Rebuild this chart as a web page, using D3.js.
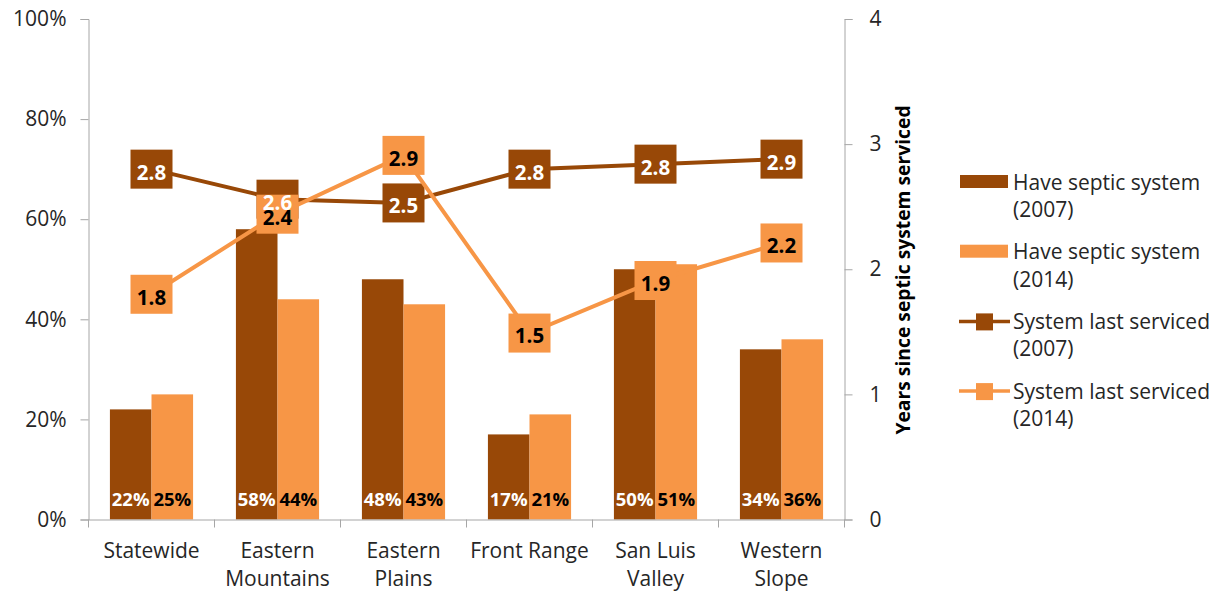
<!DOCTYPE html>
<html><head><meta charset="utf-8">
<script src="https://cdn.jsdelivr.net/npm/d3@7"></script>
<style>body{margin:0;background:#fff;} svg{display:block;font-family:"Open Sans",sans-serif;}</style>
</head><body>
<script>
const categories = [["Statewide"],["Eastern","Mountains"],["Eastern","Plains"],["Front Range"],["San Luis","Valley"],["Western","Slope"]];
const septic2007 = [22,58,48,17,50,34];
const septic2014 = [25,44,43,21,51,36];
const serviced2007 = [2.8,2.56,2.53,2.8,2.84,2.88];
const serviced2014 = [1.8,2.44,2.91,1.49,1.91,2.21];
const leftTicks = [0,20,40,60,80,100];
const rightTicks = [0,1,2,3,4];
const legendItems = ["Have septic system|(2007)","Have septic system|(2014)","System last serviced|(2007)","System last serviced|(2014)"];
const dark = "#984807", light = "#F79646", axisCol = "#A6A6A6", textCol = "#262626";

const W=1225,H=592;
const svg = d3.select("body").append("svg").attr("width",W).attr("height",H);
const x0=88.5, x1=844.5, yTop=19, yBot=519.5;
const x = d3.scaleBand().domain(d3.range(categories.length)).range([x0,x1]);
const yL = d3.scaleLinear().domain([0,100]).range([yBot,yTop]);
const yR = d3.scaleLinear().domain([0,4]).range([yBot,yTop]);

// bars
const barW = x.bandwidth()*0.66/2;
const off = (x.bandwidth()-2*barW)/2;
[septic2007,septic2014].forEach((s,si)=>{
  svg.append("g").selectAll("rect").data(s).join("rect")
    .attr("x",(d,i)=>x(i)+off+si*barW).attr("width",barW)
    .attr("y",d=>yL(d)).attr("height",d=>yBot-yL(d))
    .attr("fill",si?light:dark);
});
// bar labels
[septic2007,septic2014].forEach((s,si)=>{
  svg.append("g").selectAll("text").data(s).join("text")
    .attr("x",(d,i)=>x(i)+off+si*barW+barW/2).attr("y",499).attr("dy","0.36em")
    .attr("text-anchor","middle").attr("font-weight","bold").attr("font-size",18.5)
    .attr("fill",si?"#000":"#fff").text(d=>d+"%");
});

// axes
const gL = svg.append("g").attr("transform",`translate(${x0},0)`)
  .call(d3.axisLeft(yL).tickValues(leftTicks).tickFormat(d=>d+"%").tickSize(8).tickPadding(14));
const gR = svg.append("g").attr("transform",`translate(${x1},0)`)
  .call(d3.axisRight(yR).tickValues(rightTicks).tickFormat(d3.format("d")).tickSize(8).tickPadding(17));
const gX = svg.append("g").attr("transform",`translate(0,${yBot})`)
  .call(d3.axisBottom(x).tickValues([]).tickSizeOuter(0));
[gL,gR,gX].forEach(g=>{
  g.select(".domain").attr("stroke",axisCol);
  g.selectAll(".tick line").attr("stroke",axisCol);
  g.selectAll("text").attr("font-size",21).attr("fill",textCol).attr("font-family","Open Sans, sans-serif");
});
// category boundary ticks
svg.append("g").selectAll("line").data(d3.range(categories.length+1)).join("line")
  .attr("x1",i=>i<categories.length?x(i):x1).attr("x2",i=>i<categories.length?x(i):x1)
  .attr("y1",yBot).attr("y2",yBot+8).attr("stroke",axisCol);
// category labels
svg.append("g").selectAll("text").data(categories).join("text")
  .attr("x",(d,i)=>x(i)+x.bandwidth()/2).attr("y",557.5)
  .attr("text-anchor","middle").attr("font-size",21).attr("fill",textCol)
  .each(function(d){
    d.forEach((t,j)=>d3.select(this).append("tspan").attr("x",d3.select(this).attr("x")).attr("dy",j?28:0).text(t));
  });

// right axis title
svg.append("text").attr("transform","translate(910,270) rotate(-90)")
  .attr("text-anchor","middle").attr("font-weight","bold").attr("font-size",19.3).attr("fill","#000")
  .text("Years since septic system serviced");

// lines + labels
const cx = i=>x(i)+x.bandwidth()/2;
const series = [[serviced2007,dark,"#fff"],[serviced2014,light,"#000"]];
series.forEach(([s,c])=>{
  svg.append("path").datum(s).attr("fill","none").attr("stroke",c).attr("stroke-width",4)
    .attr("d",d3.line().x((d,i)=>cx(i)).y(d=>yR(d)));
  svg.append("g").selectAll("rect").data(s).join("rect")
    .attr("x",(d,i)=>cx(i)-21).attr("y",d=>yR(d)-19.5).attr("width",42).attr("height",39).attr("fill",c);
});
series.forEach(([s,c,tc])=>{
  svg.append("g").selectAll("text").data(s).join("text")
    .attr("x",(d,i)=>cx(i)).attr("y",d=>yR(d)+3).attr("text-anchor","middle").attr("dy","0.36em")
    .attr("font-weight","bold").attr("font-size",20.5).attr("fill",tc).text(d=>d3.format(".1f")(d));
});

// legend
const lg = svg.append("g");
legendItems.forEach((t,i)=>{
  const yc = 182 + i*69.7;
  const c = (i%2===0)?dark:light;
  if(i<2){
    lg.append("rect").attr("x",960).attr("y",yc-7).attr("width",48).attr("height",13).attr("fill",c);
  } else {
    lg.append("line").attr("x1",959).attr("x2",1010).attr("y1",yc).attr("y2",yc).attr("stroke",c).attr("stroke-width",3.5);
    lg.append("rect").attr("x",976).attr("y",yc-8).attr("width",17).attr("height",17).attr("fill",c);
  }
  const parts=t.split("|");
  const tx = lg.append("text").attr("x",1013).attr("y",yc).attr("font-size",21).attr("fill",textCol);
  parts.forEach((p,j)=>tx.append("tspan").attr("x",1013).attr("y",yc+j*27.5).attr("dy","0.36em").text(p));
});
</script>
</body></html>
